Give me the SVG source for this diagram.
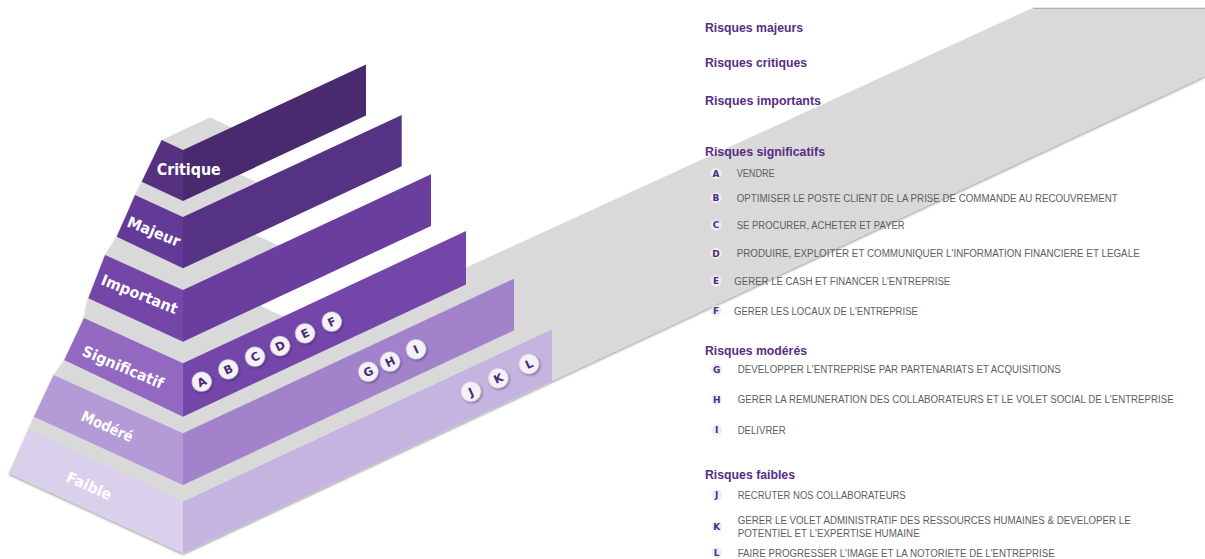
<svg xmlns="http://www.w3.org/2000/svg" width="1205" height="559" viewBox="0 0 1205 559">
<defs>
<filter id="sh" x="-5%" y="-5%" width="110%" height="115%">
<feDropShadow dx="0" dy="1.5" stdDeviation="1.2" flood-color="#000" flood-opacity="0.4"/>
</filter>
<filter id="csh" x="-60%" y="-60%" width="220%" height="220%">
<feDropShadow dx="0.5" dy="1.5" stdDeviation="1" flood-color="#1e0838" flood-opacity="0.55"/>
</filter>
</defs>
<style>
.lbl{font-family:"DejaVu Sans",Verdana,sans-serif;font-weight:bold;fill:#ffffff;font-size:15px;}
.h{font-family:"Liberation Sans",Arial,sans-serif;font-weight:bold;font-size:12px;fill:#582d84;}
.it{font-family:"Liberation Sans",Arial,sans-serif;font-size:10px;fill:#5e5e5e;}
.lt{font-family:"DejaVu Sans",Verdana,sans-serif;font-weight:bold;font-size:9px;fill:#4f2b84;text-anchor:middle;}
.lc{fill:#efecf3;}
.cb{fill:#f4f2f7;filter:url(#csh);}
.cl{font-family:"DejaVu Sans",Verdana,sans-serif;font-weight:bold;font-size:11.5px;fill:#4a2a78;text-anchor:middle;}
.gray{fill:#d9d9d9;}
</style>

<g id="ground">
<polygon class="gray" filter="url(#sh)" points="8.9,473.3 28.6,429 34,416.7 53.6,375 64.3,360 84,318 88.3,298.3 105,255 116.7,236.7 135,195 141.7,181.7 161.7,140 210,117.5 231.4,127.4 239.8,174.4 257,182.4 254.8,234.8 278,245.6 259.9,305.8 283,316.6 400,297.9 1033,8 1205,8 1205,76 552,381 183,553.3"/>
<line x1="1033" y1="8.3" x2="1205" y2="8.3" stroke="#a8a8a8" stroke-width="1"/>
</g>

<g id="step-faible">
<polygon fill="#dbd0ec" points="28.6,429 183,501.7 183,553.3 8.9,473.3"/>
<polygon fill="#c6b4e0" points="183,501.7 552,329.4 552,381 183,553.3"/>
<text class="lbl" transform="translate(65,481) rotate(24)" textLength="48" lengthAdjust="spacingAndGlyphs">Faible</text>
</g>
<g id="step-modere">
<polygon fill="#b49ad7" points="53.6,375 183,433.3 183,485 34,416.7"/>
<polygon fill="#a283cb" points="183,433.3 514,278.7 514,330.4 183,485"/>
<text class="lbl" transform="translate(80,420) rotate(24)" textLength="55" lengthAdjust="spacingAndGlyphs">Modéré</text>
</g>
<g id="step-significatif">
<polygon fill="#9268c1" points="84,318 183,363.3 183,416.7 64.3,360"/>
<polygon fill="#7446aa" points="183,363.3 466,231.1 466,284.5 183,416.7"/>
<text class="lbl" transform="translate(81,355) rotate(23)" textLength="87" lengthAdjust="spacingAndGlyphs">Significatif</text>
</g>
<g id="step-important">
<polygon fill="#7446a8" points="105,255 183,290 183,341.7 88.3,298.3"/>
<polygon fill="#6a3e9e" points="183,290 431,174.2 431,225.9 183,341.7"/>
<text class="lbl" transform="translate(100,284) rotate(22)" textLength="81" lengthAdjust="spacingAndGlyphs">Important</text>
</g>
<g id="step-majeur">
<polygon fill="#643a99" points="135,195 183,217 183,268.3 116.7,236.7"/>
<polygon fill="#553283" points="183,217 401.7,114.9 401.7,166.2 183,268.3"/>
<text class="lbl" transform="translate(126,226) rotate(22)" textLength="56" lengthAdjust="spacingAndGlyphs">Majeur</text>
</g>
<g id="step-critique">
<polygon fill="#56317f" points="161.7,140 183,150 183,201 141.7,181.7"/>
<polygon fill="#4a2a6f" points="183,150 366,64.5 366,115.5 183,201"/>
<text class="lbl" x="188.7" y="175" text-anchor="middle" textLength="64" lengthAdjust="spacingAndGlyphs" style="font-size:16px">Critique</text>
</g>

<g id="markers">
<g id="m-A" transform="translate(201.7,381.7) rotate(-25)"><circle class="cb" r="10"/><text class="cl" y="4.2">A</text></g>
<g id="m-B" transform="translate(228.3,369.3) rotate(-25)"><circle class="cb" r="10"/><text class="cl" y="4.2">B</text></g>
<g id="m-C" transform="translate(255,356.7) rotate(-25)"><circle class="cb" r="10"/><text class="cl" y="4.2">C</text></g>
<g id="m-D" transform="translate(280,346) rotate(-25)"><circle class="cb" r="10"/><text class="cl" y="4.2">D</text></g>
<g id="m-E" transform="translate(305,333.3) rotate(-25)"><circle class="cb" r="10"/><text class="cl" y="4.2">E</text></g>
<g id="m-F" transform="translate(331.7,321.7) rotate(-25)"><circle class="cb" r="10"/><text class="cl" y="4.2">F</text></g>
<g id="m-G" transform="translate(368.3,371.7) rotate(-25)"><circle class="cb" r="10"/><text class="cl" y="4.2">G</text></g>
<g id="m-H" transform="translate(390,361.7) rotate(-25)"><circle class="cb" r="10"/><text class="cl" y="4.2">H</text></g>
<g id="m-I" transform="translate(416,349.3) rotate(-25)"><circle class="cb" r="10"/><text class="cl" y="4.2">I</text></g>
<g id="m-J" transform="translate(471,391.7) rotate(-25)"><circle class="cb" r="10"/><text class="cl" y="4.2">J</text></g>
<g id="m-K" transform="translate(498.3,378.3) rotate(-25)"><circle class="cb" r="10"/><text class="cl" y="4.2">K</text></g>
<g id="m-L" transform="translate(529,364) rotate(-25)"><circle class="cb" r="10"/><text class="cl" y="4.2">L</text></g>
</g>

<g id="legend">
<text id="h-majeurs" class="h" x="705" y="32" textLength="98" lengthAdjust="spacingAndGlyphs">Risques majeurs</text>
<text id="h-critiques" class="h" x="705" y="66.5" textLength="102" lengthAdjust="spacingAndGlyphs">Risques critiques</text>
<text id="h-importants" class="h" x="705" y="104.5" textLength="116" lengthAdjust="spacingAndGlyphs">Risques importants</text>
<text id="h-significatifs" class="h" x="705" y="156" textLength="120" lengthAdjust="spacingAndGlyphs">Risques significatifs</text>

<g id="i-A"><circle class="lc" cx="716" cy="173.5" r="5.5"/><text class="lt" x="716" y="176.7">A</text><text class="it" x="736.7" y="177.3" textLength="38" lengthAdjust="spacingAndGlyphs">VENDRE</text></g>
<g id="i-B"><circle class="lc" cx="716" cy="197.7" r="5.5"/><text class="lt" x="716" y="200.9">B</text><text class="it" x="736.7" y="201.7" textLength="381" lengthAdjust="spacingAndGlyphs">OPTIMISER LE POSTE CLIENT DE LA PRISE DE COMMANDE AU RECOUVREMENT</text></g>
<g id="i-C"><circle class="lc" cx="716" cy="225.2" r="5.5"/><text class="lt" x="716" y="228.4">C</text><text class="it" x="736.7" y="229.3" textLength="168" lengthAdjust="spacingAndGlyphs">SE PROCURER, ACHETER ET PAYER</text></g>
<g id="i-D"><circle class="lc" cx="716" cy="253.3" r="5.5"/><text class="lt" x="716" y="256.5">D</text><text class="it" x="736.7" y="257.3" textLength="403" lengthAdjust="spacingAndGlyphs">PRODUIRE, EXPLOITER ET COMMUNIQUER L'INFORMATION FINANCIERE ET LEGALE</text></g>
<g id="i-E"><circle class="lc" cx="716" cy="281" r="5.5"/><text class="lt" x="716" y="284.2">E</text><text class="it" x="734.3" y="285" textLength="216" lengthAdjust="spacingAndGlyphs">GERER LE CASH ET FINANCER L'ENTREPRISE</text></g>
<g id="i-F"><circle class="lc" cx="716" cy="311" r="5.5"/><text class="lt" x="716" y="314.2">F</text><text class="it" x="734" y="315.3" textLength="184" lengthAdjust="spacingAndGlyphs">GERER LES LOCAUX DE L'ENTREPRISE</text></g>

<text id="h-moderes" class="h" x="705" y="355" textLength="102" lengthAdjust="spacingAndGlyphs">Risques modérés</text>
<g id="i-G"><circle class="lc" cx="716.7" cy="369.3" r="5.5"/><text class="lt" x="716.7" y="372.5">G</text><text class="it" x="737.7" y="373.3" textLength="323" lengthAdjust="spacingAndGlyphs">DEVELOPPER L'ENTREPRISE PAR PARTENARIATS ET ACQUISITIONS</text></g>
<g id="i-H"><circle class="lc" cx="716.7" cy="399.3" r="5.5"/><text class="lt" x="716.7" y="402.5">H</text><text class="it" x="737.7" y="403.3" textLength="436" lengthAdjust="spacingAndGlyphs">GERER LA REMUNERATION DES COLLABORATEURS ET LE VOLET SOCIAL DE L'ENTREPRISE</text></g>
<g id="i-I"><circle class="lc" cx="716.7" cy="430" r="5.5"/><text class="lt" x="716.7" y="433.2">I</text><text class="it" x="737.7" y="434" textLength="48" lengthAdjust="spacingAndGlyphs">DELIVRER</text></g>

<text id="h-faibles" class="h" x="705" y="479.3" textLength="90" lengthAdjust="spacingAndGlyphs">Risques faibles</text>
<g id="i-J"><circle class="lc" cx="716.7" cy="495" r="5.5"/><text class="lt" x="716.7" y="498.2">J</text><text class="it" x="737.7" y="499.3" textLength="168" lengthAdjust="spacingAndGlyphs">RECRUTER NOS COLLABORATEURS</text></g>
<g id="i-K"><circle class="lc" cx="716.7" cy="526.7" r="5.5"/><text class="lt" x="716.7" y="529.9">K</text><text class="it" x="737.7" y="524" textLength="393" lengthAdjust="spacingAndGlyphs">GERER LE VOLET ADMINISTRATIF DES RESSOURCES HUMAINES &amp; DEVELOPER LE</text><text class="it" x="737.7" y="536.7" textLength="182" lengthAdjust="spacingAndGlyphs">POTENTIEL ET L'EXPERTISE HUMAINE</text></g>
<g id="i-L"><circle class="lc" cx="716.7" cy="552.5" r="5.5"/><text class="lt" x="716.7" y="555.7">L</text><text class="it" x="737.7" y="556.7" textLength="317" lengthAdjust="spacingAndGlyphs">FAIRE PROGRESSER L'IMAGE ET LA NOTORIETE DE L'ENTREPRISE</text></g>
</g>
</svg>
